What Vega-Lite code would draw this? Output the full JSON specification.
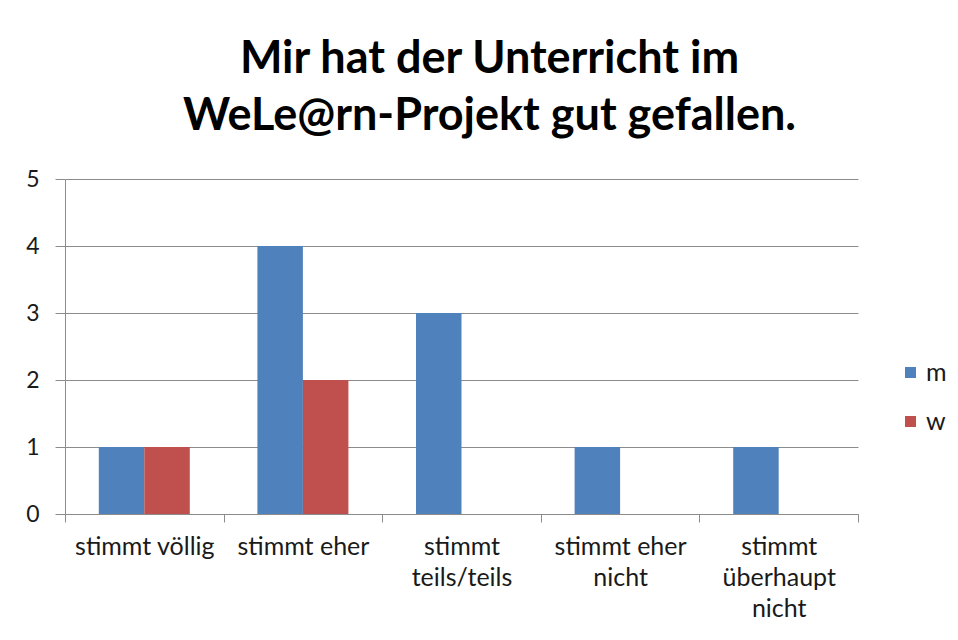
{
  "$schema": "https://vega.github.io/schema/vega-lite/v6.json",
  "width": 793,
  "height": 335,
  "autosize": {"type": "none"},
  "padding": {"left": 65, "top": 179, "right": 100, "bottom": 126},
  "background": "white",
  "title": {
    "text": ["Mir hat der Unterricht im", "WeLe@rn-Projekt gut gefallen."],
    "font": "Lato",
    "fontSize": 45,
    "fontWeight": "bold",
    "color": "#000000",
    "lineHeight": 57,
    "anchor": "middle",
    "dx": 28,
    "offset": 29
  },
  "data": {
    "values": [
      {"antwort": "stimmt völlig", "geschlecht": "m", "anzahl": 1},
      {"antwort": "stimmt völlig", "geschlecht": "w", "anzahl": 1},
      {"antwort": "stimmt eher", "geschlecht": "m", "anzahl": 4},
      {"antwort": "stimmt eher", "geschlecht": "w", "anzahl": 2},
      {"antwort": "stimmt teils/teils", "geschlecht": "m", "anzahl": 3},
      {"antwort": "stimmt teils/teils", "geschlecht": "w", "anzahl": 0},
      {"antwort": "stimmt eher nicht", "geschlecht": "m", "anzahl": 1},
      {"antwort": "stimmt eher nicht", "geschlecht": "w", "anzahl": 0},
      {"antwort": "stimmt überhaupt nicht", "geschlecht": "m", "anzahl": 1},
      {"antwort": "stimmt überhaupt nicht", "geschlecht": "w", "anzahl": 0}
    ]
  },
  "mark": {"type": "bar"},
  "encoding": {
    "x": {
      "field": "antwort",
      "type": "nominal",
      "sort": null,
      "scale": {"paddingInner": 0, "paddingOuter": 0},
      "axis": {
        "title": null,
        "tickBand": "extent",
        "labelAngle": 0,
        "labelAlign": "center",
        "labelBaseline": "top",
        "labelPadding": 12,
        "labelLineHeight": 31,
        "labelFont": "Lato",
        "labelFontSize": 25,
        "labelColor": "#1a1a1a",
        "labelLimit": 0,
        "labelOverlap": false,
        "labelBound": false,
        "labelExpr": "datum.value == 'stimmt teils/teils' ? ['stimmt', 'teils/teils'] : datum.value == 'stimmt eher nicht' ? ['stimmt eher', 'nicht'] : datum.value == 'stimmt überhaupt nicht' ? ['stimmt', 'überhaupt', 'nicht'] : datum.label",
        "domainColor": "#8c8c8c",
        "tickColor": "#8c8c8c",
        "tickSize": 8,
        "grid": false
      }
    },
    "xOffset": {
      "field": "geschlecht",
      "type": "nominal",
      "scale": {"paddingInner": 0, "paddingOuter": 0.743}
    },
    "y": {
      "field": "anzahl",
      "type": "quantitative",
      "scale": {"domain": [0, 5], "nice": false},
      "axis": {
        "title": null,
        "values": [0, 1, 2, 3, 4, 5],
        "labelFont": "Lato",
        "labelFontSize": 23,
        "labelColor": "#1a1a1a",
        "labelPadding": 16,
        "tickSize": 10,
        "tickColor": "#8c8c8c",
        "domainColor": "#8c8c8c",
        "gridColor": "#8c8c8c",
        "grid": true
      }
    },
    "color": {
      "field": "geschlecht",
      "type": "nominal",
      "scale": {"domain": ["m", "w"], "range": ["#4F81BD", "#C0504D"]},
      "legend": {
        "title": null,
        "orient": "none",
        "legendX": 833,
        "legendY": 181,
        "symbolType": "square",
        "symbolSize": 121,
        "symbolStrokeWidth": 0,
        "labelFont": "Lato",
        "labelFontSize": 25,
        "labelColor": "#1a1a1a",
        "labelOffset": 3,
        "rowPadding": 23
      }
    }
  },
  "config": {
    "view": {"stroke": null},
    "axis": {"gridOpacity": 1, "domainWidth": 1, "gridWidth": 1}
  }
}
